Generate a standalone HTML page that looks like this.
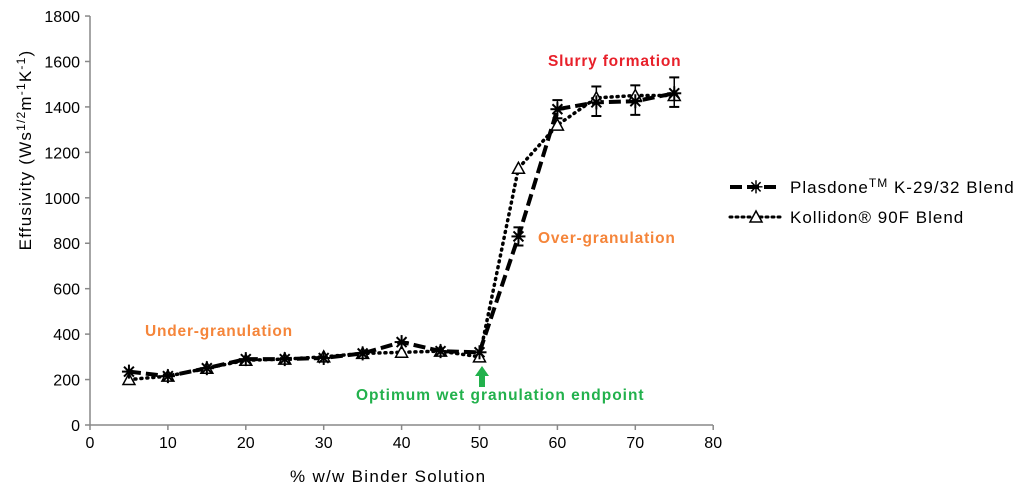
<!DOCTYPE html>
<html><head><meta charset="utf-8"><style>
body{margin:0;background:#fff;width:1029px;height:493px;overflow:hidden;font-family:"Liberation Sans",sans-serif}
</style></head><body>
<svg id="s" width="1029" height="493" xmlns="http://www.w3.org/2000/svg" font-family="Liberation Sans, sans-serif">
<g stroke="#888" stroke-width="1.5" fill="none">
<line x1="90" y1="16" x2="90" y2="425"/><line x1="90" y1="425" x2="713" y2="425"/>
</g>
<g id="ticks" stroke="#888" stroke-width="1.5"></g>
<g id="labels" font-size="16" fill="#000"></g>
<text x="290" y="482" font-size="17" letter-spacing="1.3">% w/w Binder Solution</text>
<text transform="translate(31,150) rotate(-90)" font-size="17" letter-spacing="1.2" text-anchor="middle">Effusivity (Ws<tspan dy="-6" font-size="12">1/2</tspan><tspan dy="6">m</tspan><tspan dy="-6" font-size="12">-1</tspan><tspan dy="6">K</tspan><tspan dy="-6" font-size="12">-1</tspan><tspan dy="6">)</tspan></text>
<g id="series"></g>
<text x="145" y="336" font-size="15.5" font-weight="bold" fill="#f5853a" letter-spacing="0.8">Under-granulation</text>
<text x="538" y="243" font-size="15.5" font-weight="bold" fill="#f5853a" letter-spacing="0.8">Over-granulation</text>
<text x="548" y="66" font-size="15.5" font-weight="bold" fill="#e8202a" letter-spacing="0.8">Slurry formation</text>
<text x="356" y="400" font-size="15.5" font-weight="bold" fill="#22b14c" letter-spacing="1">Optimum wet granulation endpoint</text>
<polygon points="482,366 475,376 479,376 479,387 485,387 485,376 489,376" fill="#22b14c"/>
<line x1="730" y1="187" x2="780" y2="187" stroke="#000" stroke-width="4" stroke-dasharray="12,5"/>
<text x="756" y="193" font-size="17" font-weight="bold" text-anchor="middle">✳</text>
<text x="790" y="193" font-size="17" letter-spacing="1">Plasdone<tspan dy="-6" font-size="12">TM</tspan><tspan dy="6"> K-29/32 Blend</tspan></text>
<line x1="730" y1="217" x2="780" y2="217" stroke="#000" stroke-width="3" stroke-dasharray="2,4" stroke-linecap="round"/>
<polygon points="756,211 750,222 762,222" fill="#fff" stroke="#000" stroke-width="1.5"/>
<text x="790" y="223" font-size="17" letter-spacing="1">Kollidon® 90F Blend</text>
</svg>
<script>
var X=v=>90+v*7.79,Y=v=>425-v*0.2272,ns="http://www.w3.org/2000/svg";
function el(p,t,a){var e=document.createElementNS(ns,t);for(var k in a)e.setAttribute(k,a[k]);document.getElementById(p).appendChild(e);return e}
for(var i=0;i<=8;i++){el("ticks","line",{x1:X(i*10),y1:425,x2:X(i*10),y2:430});var t=el("labels","text",{x:X(i*10),y:448,"text-anchor":"middle"});t.textContent=i*10}
for(var j=0;j<=9;j++){el("ticks","line",{x1:85,y1:Y(j*200),x2:90,y2:Y(j*200)});var t=el("labels","text",{x:80,y:Y(j*200)+6,"text-anchor":"end"});t.textContent=j*200}
var xs=[5,10,15,20,25,30,35,40,45,50,55,60,65,70,75];
var P=[235,215,250,290,290,295,315,365,325,320,830,1390,1420,1425,1460];
var K=[200,215,250,285,290,300,315,320,325,300,1130,1320,1440,1450,1450];
function pts(a){return xs.map((x,i)=>X(x)+","+Y(a[i])).join(" ")}
el("series","polyline",{points:pts(K),fill:"none",stroke:"#000","stroke-width":3.5,"stroke-dasharray":"1,5","stroke-linecap":"round"});
el("series","polyline",{points:pts(P),fill:"none",stroke:"#000","stroke-width":4,"stroke-dasharray":"12,5"});
var err={60:[40,40],65:[70,60],70:[70,60],75:[70,60],55:[40,40]};
xs.forEach((x,i)=>{var e=err[x];if(e){var cx=X(x),a=Y(P[i]+e[0]),b=Y(P[i]-e[1]);el("series","line",{x1:cx,y1:a,x2:cx,y2:b,stroke:"#000","stroke-width":1.5});el("series","line",{x1:cx-5,y1:a,x2:cx+5,y2:a,stroke:"#000","stroke-width":2});el("series","line",{x1:cx-5,y1:b,x2:cx+5,y2:b,stroke:"#000","stroke-width":2});}
 var cx=X(x),cy=Y(K[i]);el("series","polygon",{points:(cx)+","+(cy-6)+" "+(cx-6)+","+(cy+5)+" "+(cx+6)+","+(cy+5),fill:"#fff",stroke:"#000","stroke-width":1.5});
 var py=Y(P[i]);for(var k=0;k<4;k++){var an=k*Math.PI/4;el("series","line",{x1:cx-7*Math.cos(an),y1:py-7*Math.sin(an),x2:cx+7*Math.cos(an),y2:py+7*Math.sin(an),stroke:"#000","stroke-width":2});}
});
</script>
</body></html>
